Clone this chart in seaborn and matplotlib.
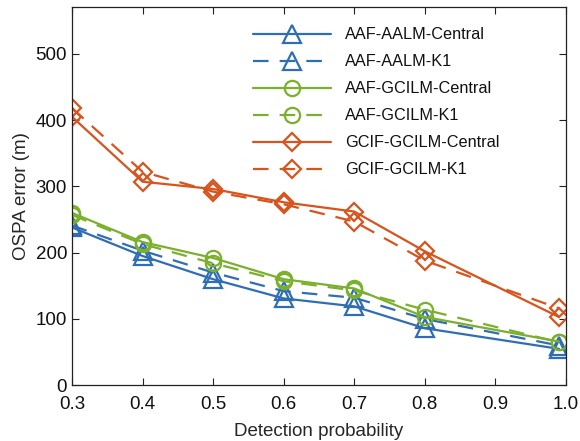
import matplotlib
matplotlib.use("Agg")
import matplotlib.pyplot as plt
import seaborn as sns
import pandas as pd

detection_prob = [0.3, 0.4, 0.5, 0.6, 0.7, 0.8, 0.99]

aaf_aalm_central = [238, 195, 160, 131, 119, 86, 55]
aaf_aalm_k1 = [241, 203, 170, 142, 132, 100, 60]
aaf_gcilm_central = [260, 216, 192, 160, 146, 103, 66]
aaf_gcilm_k1 = [257, 213, 184, 157, 143, 114, 65]
gcif_gcilm_central = [405, 307, 296, 276, 262, 202, 103]
gcif_gcilm_k1 = [418, 322, 292, 273, 247, 188, 116]

labels = ["AAF-AALM-Central", "AAF-AALM-K1", "AAF-GCILM-Central",
          "AAF-GCILM-K1", "GCIF-GCILM-Central", "GCIF-GCILM-K1"]
series = [aaf_aalm_central, aaf_aalm_k1, aaf_gcilm_central,
          aaf_gcilm_k1, gcif_gcilm_central, gcif_gcilm_k1]

x_ticks = [0.3, 0.4, 0.5, 0.6, 0.7, 0.8, 0.9, 1.0]
y_ticks = [0, 100, 200, 300, 400, 500]

blue = "#2F6EB5"
green = "#7AB02C"
red = "#D9531C"
styles = [
    (blue, "^", "-", 13),
    (blue, "^", "--", 13),
    (green, "o", "-", 11),
    (green, "o", "--", 11),
    (red, "D", "-", 9.5),
    (red, "D", "--", 9.5),
]

sns.set_theme(style="ticks")
plt.rcParams["font.family"] = ["Liberation Sans", "DejaVu Sans"]

fig = plt.figure(figsize=(5.80, 4.41), dpi=100)
ax = fig.add_axes([0.1241, 0.1263, 0.9759 - 0.1241, 0.9834 - 0.1263])

for lab, vals, (c, m, ls, ms) in zip(labels, series, styles):
    df = pd.DataFrame({"x": detection_prob, "y": vals})
    kw = dict(color=c, marker=m, markersize=ms, markerfacecolor="none",
              markeredgecolor=c, markeredgewidth=1.6, linewidth=1.6,
              label=lab)
    if ls == "--":
        kw["dashes"] = (7, 5)
    sns.lineplot(data=df, x="x", y="y", ax=ax, **kw)

ax.set_xlim(0.3, 1.0)
ax.set_ylim(0, 570)
ax.set_xticks(x_ticks)
ax.set_xticklabels([f"{t:.1f}" for t in x_ticks])
ax.set_yticks(y_ticks)
ax.tick_params(direction="in", top=True, right=True, labelsize=13.5,
               length=5, width=0.8, colors="#222222", labelcolor="#111111")
ax.tick_params(axis="x", pad=8)
for sp in ax.spines.values():
    sp.set_linewidth(0.9)
    sp.set_color("#222222")
ax.set_xlabel("Detection probability", fontsize=13.5, labelpad=7)
ax.set_ylabel("OSPA error (m)", fontsize=13.5, labelpad=4)

leg = ax.legend(loc="upper left", bbox_to_anchor=(0.366, 0.947),
                frameon=False, fontsize=11.7, handlelength=4.8,
                handletextpad=0.9, labelspacing=0.74, borderpad=0,
                borderaxespad=0)
for t in leg.get_texts():
    t.set_color("#111111")

fig.savefig("out.png", dpi=100)
